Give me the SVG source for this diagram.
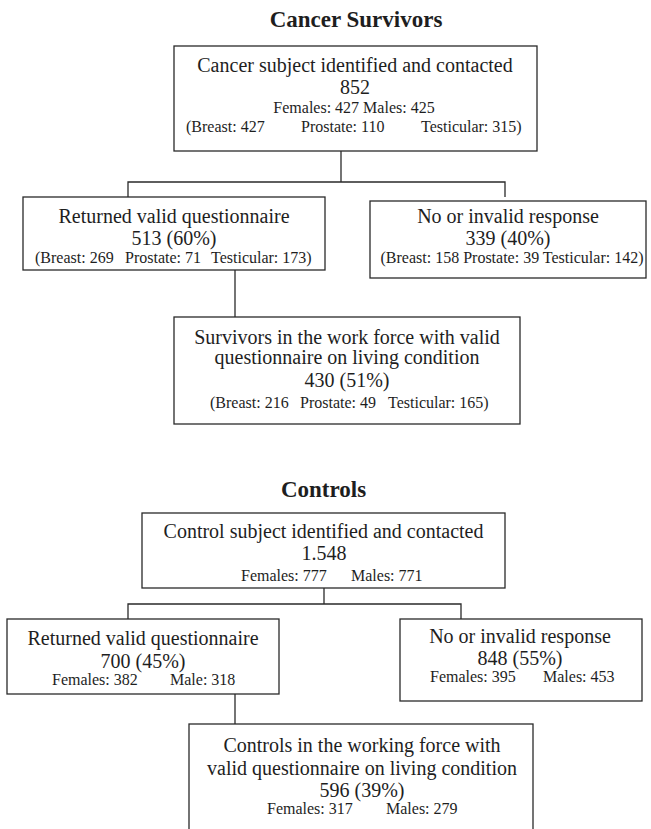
<svg xmlns="http://www.w3.org/2000/svg" width="651" height="829" viewBox="0 0 651 829">
<style>
.bg{fill:#ffffff}
.box{fill:#ffffff;stroke:#2a2a2a;stroke-width:1.3}
.ln{fill:none;stroke:#2a2a2a;stroke-width:1.3}
text{font-family:"Liberation Serif","Times New Roman",serif;fill:#1e1e1e}
.t{font-size:23px;font-weight:bold;text-anchor:middle}
.m{font-size:20px;text-anchor:middle}
.s{font-size:16px;text-anchor:middle}
.sl{font-size:16px}
</style>
<rect class="bg" x="0" y="0" width="651" height="829"/>
<text class="t" x="356" y="27">Cancer Survivors</text>
<text class="t" x="323.5" y="497">Controls</text>
<g id="connectors">
<polyline class="ln" points="341,151 341,182"/>
<polyline class="ln" points="128,197 128,182 505,182 505,197"/>
<polyline class="ln" points="235,270 235,317"/>
<polyline class="ln" points="324,588 324,604"/>
<polyline class="ln" points="128,619 128,604 461,604 461,619"/>
<polyline class="ln" points="235,694 235,724"/>
</g>
<g id="cs_contacted">
<rect class="box" x="174" y="46" width="363" height="105"/>
<text class="m" x="355" y="72">Cancer subject identified and contacted</text>
<text class="m" x="355" y="94">852</text>
<text class="s" x="354" y="113">Females: 427 Males: 425</text>
<text class="sl" x="186" y="132">(Breast: 427</text>
<text class="sl" x="301" y="132">Prostate: 110</text>
<text class="sl" x="421" y="132">Testicular: 315)</text>
</g>
<g id="cs_returned">
<rect class="box" x="23" y="197" width="302" height="73"/>
<text class="m" x="174" y="223">Returned valid questionnaire</text>
<text class="m" x="174" y="245">513 (60%)</text>
<text class="sl" x="35" y="263">(Breast: 269</text>
<text class="sl" x="125" y="263">Prostate: 71</text>
<text class="sl" x="211" y="263">Testicular: 173)</text>
</g>
<g id="cs_noresponse">
<rect class="box" x="370" y="201" width="276" height="77"/>
<text class="m" x="508" y="223">No or invalid response</text>
<text class="m" x="508" y="245">339 (40%)</text>
<text class="s" x="512" y="263">(Breast: 158 Prostate: 39 Testicular: 142)</text>
</g>
<g id="cs_workforce">
<rect class="box" x="174" y="317" width="346" height="107"/>
<text class="m" x="347" y="344">Survivors in the work force with valid</text>
<text class="m" x="347" y="364">questionnaire on living condition</text>
<text class="m" x="347" y="387">430 (51%)</text>
<text class="sl" x="210" y="408">(Breast: 216</text>
<text class="sl" x="300" y="408">Prostate: 49</text>
<text class="sl" x="388" y="408">Testicular: 165)</text>
</g>
<g id="ct_contacted">
<rect class="box" x="142" y="513" width="363" height="75"/>
<text class="m" x="323.5" y="538">Control subject identified and contacted</text>
<text class="m" x="324" y="560">1.548</text>
<text class="sl" x="241" y="581">Females: 777</text>
<text class="sl" x="351" y="581">Males: 771</text>
</g>
<g id="ct_returned">
<rect class="box" x="7" y="619" width="272" height="75"/>
<text class="m" x="143" y="645">Returned valid questionnaire</text>
<text class="m" x="143" y="668">700 (45%)</text>
<text class="sl" x="52" y="685">Females: 382</text>
<text class="sl" x="170" y="685">Male: 318</text>
</g>
<g id="ct_noresponse">
<rect class="box" x="400" y="619" width="242" height="82"/>
<text class="m" x="520" y="643">No or invalid response</text>
<text class="m" x="520" y="665">848 (55%)</text>
<text class="sl" x="430" y="682">Females: 395</text>
<text class="sl" x="543" y="682">Males: 453</text>
</g>
<g id="ct_workforce">
<rect class="box" x="189" y="724" width="344" height="120"/>
<text class="m" x="362" y="752">Controls in the working force with</text>
<text class="m" x="362" y="775">valid questionnaire on living condition</text>
<text class="m" x="362" y="797">596 (39%)</text>
<text class="sl" x="267" y="814">Females: 317</text>
<text class="sl" x="386" y="814">Males: 279</text>
</g>
</svg>
